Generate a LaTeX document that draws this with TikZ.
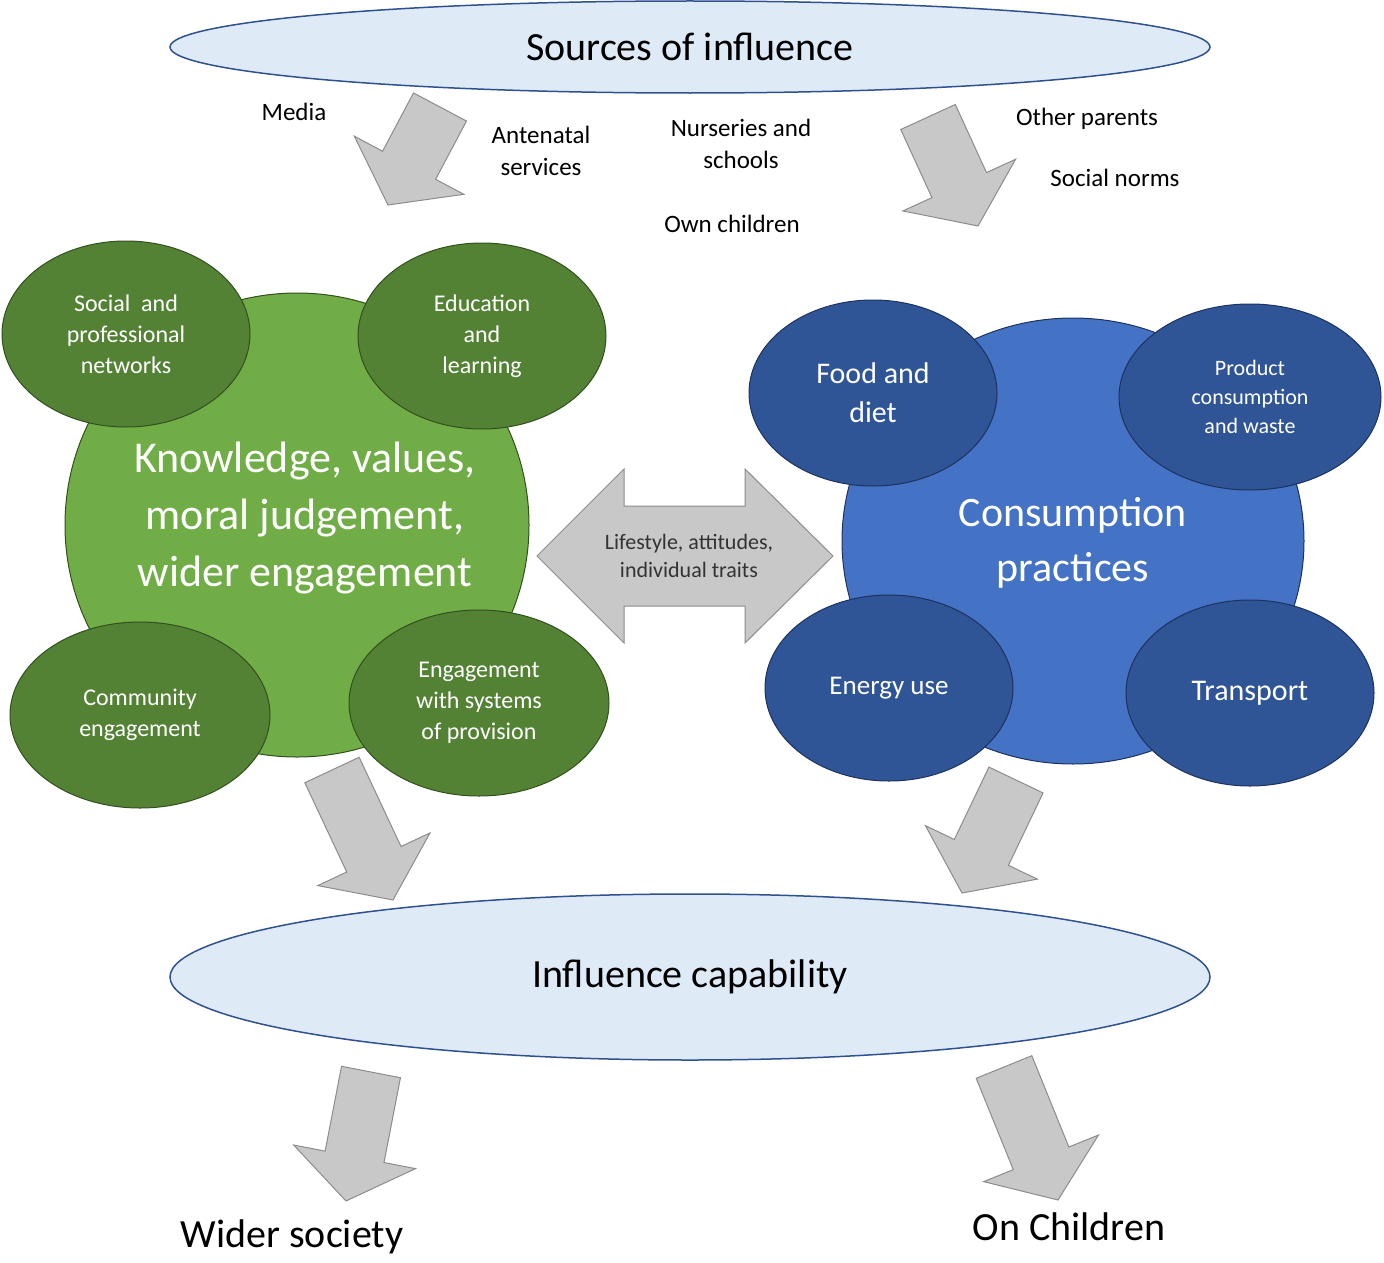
\documentclass[tikz,border=0pt]{standalone}
\usepackage{fontspec}
\setmainfont{Carlito}
\usetikzlibrary{calc,shapes.geometric}
\definecolor{lb}{RGB}{222,235,247}
\definecolor{db}{RGB}{47,82,143}
\definecolor{g1}{RGB}{112,173,71}
\definecolor{g2}{RGB}{84,130,53}
\definecolor{gb}{RGB}{50,80,30}
\definecolor{b1}{RGB}{68,114,196}
\definecolor{b2}{RGB}{47,85,151}
\definecolor{bb}{RGB}{30,50,95}
\definecolor{ar}{RGB}{200,200,200}
\definecolor{arb}{RGB}{140,140,140}
\tikzset{
 fs/.style={font=\fontsize{#1pt}{1.3\dimexpr #1pt\relax}\selectfont},
 lbl/.style={align=center,text=black,fs=25},
 big/.style={ellipse,draw=db,fill=lb,line width=1.5pt},
 gsm/.style={ellipse,draw=gb,fill=g2,line width=1pt,text=white,align=center,fs=24},
 bsm/.style={ellipse,draw=bb,fill=b2,line width=1pt,text=white,align=center},
 barrow/.style={draw=arb,fill=ar,line width=1pt,line join=miter},
}
\newcommand{\blockarrow}[2]{%
 \coordinate (H) at ($(#2)!45pt!(#1)$);
 \draw[barrow] ($(#1)!30pt!90:(#2)$) -- ($(H)!30pt!-90:(#1)$) -- ($(H)!62pt!-90:(#1)$) -- (#2)
   -- ($(H)!62pt!90:(#1)$) -- ($(H)!30pt!90:(#1)$) -- ($(#1)!30pt!-90:(#2)$) -- cycle;}
\begin{document}
\begin{tikzpicture}[x=1pt,y=-1pt]
\useasboundingbox (0,0) rectangle (1384,1263);
% top / bottom ellipses
\node[big,minimum width=1040,minimum height=92] (src) at (690,47) {};
\node[fs=40] at (src) {Sources of influence};
\node[big,minimum width=1040,minimum height=166] (cap) at (690,977) {};
\node[fs=40] at (cap) {Influence capability};
% green
\node[circle,draw=gb,fill=g1,line width=1pt,minimum size=464] (know) at (297,525) {};
\node[text=white,align=center,fs=44] at (305,518) {Knowledge, values,\\moral judgement,\\wider engagement};
\node[gsm,minimum width=248,minimum height=186] (soc) at (126,334) {Social\ \ and\\professional\\networks};
\node[gsm,minimum width=248,minimum height=186] (edu) at (482,336) {Education\\and\\learning};
\node[gsm,minimum width=260,minimum height=186] (com) at (140,715) {Community\\engagement};
\node[gsm,minimum width=260,minimum height=186] (eng) at (479,703) {Engagement\\with systems\\of provision};
% blue
\node[ellipse,draw=bb,fill=b1,line width=1pt,minimum width=462,minimum height=446] (cons) at (1073,541) {};
\node[text=white,align=center,fs=42] at (1073,543) {Consumption\\practices};
\node[bsm,fs=30,minimum width=248,minimum height=186] (food) at (873,393) {Food and\\diet};
\node[bsm,fs=22,minimum width=262,minimum height=186] (prod) at (1250,397) {Product\\consumption\\and waste};
\node[bsm,fs=27,minimum width=248,minimum height=186] (ener) at (889,688) {Energy use};
\node[bsm,fs=30,minimum width=248,minimum height=186] (tran) at (1250,693) {Transport};
% double arrow
\draw[barrow] (537,556) -- (624,469) -- (624,506) -- (745,506) -- (745,469) -- (833,556)
  -- (745,643) -- (745,606) -- (624,606) -- (624,643) -- cycle;
\node[align=center,fs=22,text=black!80] (life) at (689,556) {Lifestyle, attitudes,\\individual traits};
% block arrows
\coordinate (t1) at (440,107); \coordinate (e1) at (388,205);
\coordinate (t2) at (928,117); \coordinate (e2) at (978,226);
\coordinate (t3) at (332,770); \coordinate (e3) at (393,900);
\coordinate (t4) at (1016,780); \coordinate (e4) at (962,893);
\coordinate (t5) at (371,1072); \coordinate (e5) at (346,1201);
\coordinate (t6) at (1004,1067); \coordinate (e6) at (1058,1200);
\blockarrow{t1}{e1}\blockarrow{t2}{e2}\blockarrow{t3}{e3}
\blockarrow{t4}{e4}\blockarrow{t5}{e5}\blockarrow{t6}{e6}
% labels
\node[lbl] (m) at (294,112) {Media};
\node[lbl] (a) at (541,151) {Antenatal\\services};
\node[lbl] (n) at (741,144) {Nurseries and\\schools};
\node[lbl] (o) at (732,224) {Own children};
\node[lbl] (p) at (1087,119) {Other parents};
\node[lbl] (s) at (1115,178) {Social norms};
\node[lbl,fs=40] (w) at (292,1237) {Wider society};
\node[lbl,fs=40] (c) at (1069,1227) {On Children};
\end{tikzpicture}
\end{document}
